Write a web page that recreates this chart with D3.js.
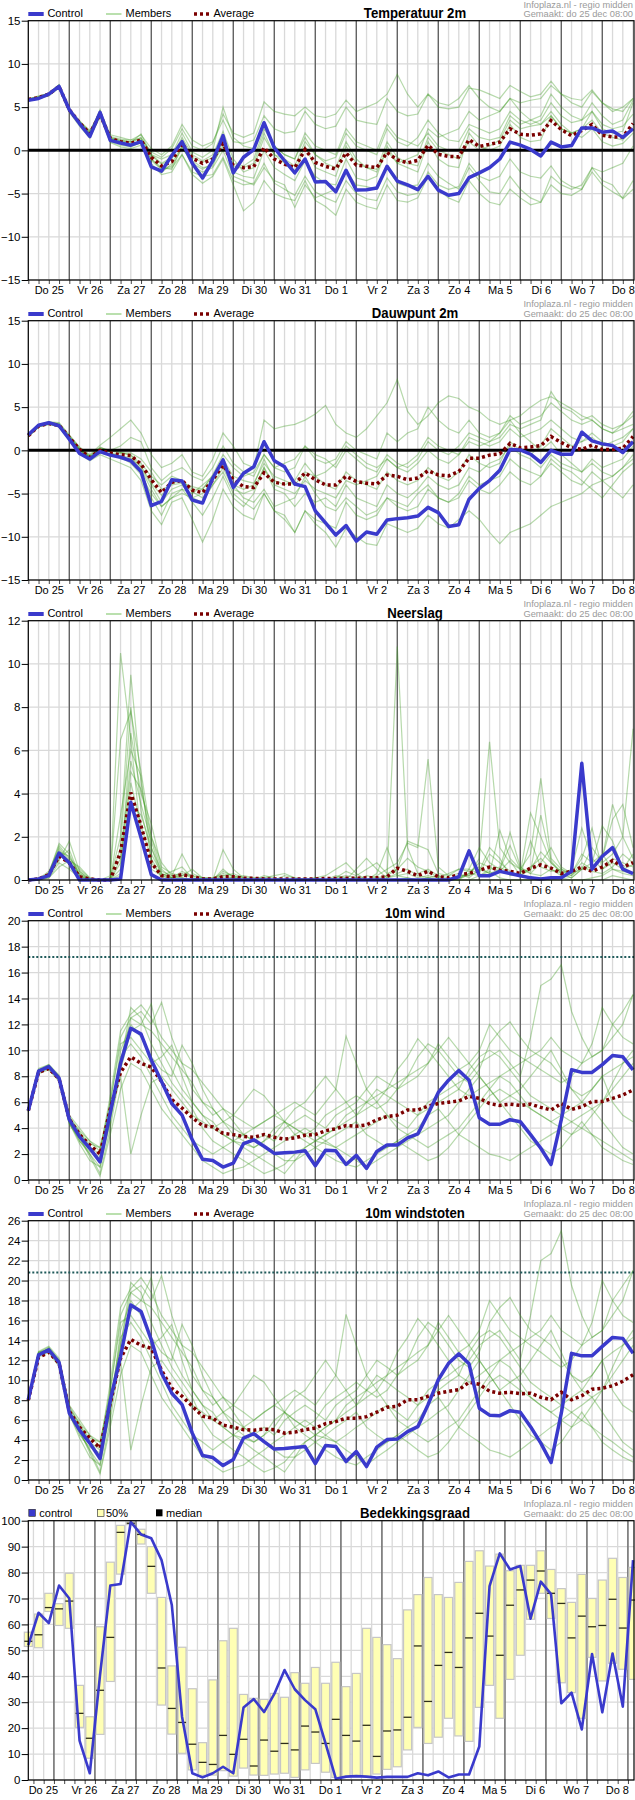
<!DOCTYPE html>
<html>
<head>
<meta charset="utf-8">
<script src="https://cdn.jsdelivr.net/npm/d3@7"></script>
<style>
  body { margin: 0; background: #fff; }
  svg { display: block; }
</style>
</head>
<body>
<script>
// ---- time axis (6-hourly steps) ----
const runStart = new Date(2025, 11, 25, 0);   // ensemble panels start do 25 dec 00:00
const cloudStart = new Date(2025, 11, 25, 9); // cloud cover panel starts 9h later
const dayNames = ["Zo", "Ma", "Di", "Wo", "Do", "Vr", "Za"];

// ---- Temperatuur 2m ----
const tempControl = [5.8,6.0,6.5,7.4, 4.7,3.1,1.6,4.4, 1.15,0.85,0.6,1.0, -1.9,-2.4,-0.6,1.0, -1.5,-3.2,-1.2,1.7, -2.6,-0.8,0.1,3.2, 0.3,-1.2,-2.6,-1.0, -3.65,-3.6,-4.8,-2.3, -4.6,-4.55,-4.35,-1.85, -3.55,-4.0,-4.55,-3.0, -4.6,-5.2,-5.0,-3.15, -2.6,-2.0,-1.0,0.95, 0.6,0.1,-0.65,0.95, 0.4,0.55,2.6,2.6, 2.1,2.25,1.5,2.5];
const tempAverage = [5.9,6.1,6.5,7.4, 4.7,3.2,1.9,4.2, 1.4,1.0,0.8,1.2, -0.8,-1.8,-1.3,0.8, -0.9,-1.5,-1.0,0.8, -1.8,-2.0,-1.9,0.3, -1.0,-1.6,-2.0,0.1, -1.4,-1.85,-2.15,-0.3, -1.7,-1.85,-2.0,-0.25, -1.1,-1.45,-1.15,0.6, -0.45,-0.7,-0.75,1.25, 0.45,0.7,0.95,2.5, 1.85,1.75,1.9,3.45, 2.4,1.7,2.3,3.0, 1.75,1.55,1.55,3.1];
const tempMembers = [
  [5.9,6.2,6.6,7.5, 4.9,3.3,2.2,4.6, 1.8,1.5,1.2,1.8, 0.2,-0.5,0.5,3.0, 1.2,0.5,1.0,3.5, 1.0,0.8,1.2,4.0, 2.5,2.0,2.2,4.5, 3.0,2.5,2.8,5.0, 3.5,3.2,3.0,6.0, 4.5,4.0,4.2,6.5, 5.0,4.8,5.0,7.2, 7.0,6.5,6.0,7.5, 6.8,6.2,6.5,8.0, 6.5,5.5,5.0,6.8, 5.5,4.5,5.0,6.0],
  [5.8,6.0,6.3,7.2, 4.4,2.8,1.4,3.9, 0.9,0.4,0.2,0.6, -1.5,-2.8,-2.5,-0.5, -2.5,-3.0,-2.8,-0.8, -3.5,-4.0,-3.8,-1.5, -3.8,-4.5,-5.2,-3.0, -4.8,-5.5,-6.0,-3.5, -5.0,-5.6,-5.8,-3.2, -4.8,-5.2,-5.0,-2.5, -4.0,-4.5,-4.2,-1.5, -3.0,-3.5,-3.0,-1.0, -2.5,-3.0,-3.2,-1.8, -3.5,-4.2,-4.5,-2.5, -4.0,-4.8,-5.5,-3.5],
  [6.0,6.1,6.5,7.5, 4.6,3.0,2.0,4.5, 1.3,1.2,1.0,1.5, -0.5,-1.5,-0.8,1.5, -0.5,-1.2,-0.5,2.2, -1.0,-2.5,-2.0,1.5, -0.5,-1.0,-1.8,1.0, -0.5,-1.2,-0.8,2.0, 0.5,0.0,-0.5,2.5, 1.0,0.5,1.5,3.5, 2.0,1.2,1.0,3.0, 2.5,2.0,2.5,4.5, 3.5,3.0,3.5,5.5, 4.0,3.2,3.5,4.5, 3.0,2.5,2.8,4.2],
  [5.8,6.0,6.4,7.3, 4.5,3.4,2.1,4.0, 1.5,0.9,0.5,1.0, -1.2,-2.2,-1.8,0.2, -1.2,-2.0,-1.8,1.0, -2.5,-3.0,-3.2,0.0, -2.0,-2.8,-3.5,-1.2, -3.0,-3.8,-4.0,-1.0, -3.2,-3.5,-3.0,0.5, -1.5,-2.0,-2.5,1.0, -1.0,-1.8,-2.0,2.0, 0.5,0.0,0.5,3.0, 1.5,1.0,1.2,4.0, 2.5,2.0,2.5,4.5, 2.5,2.0,2.2,5.5],
  [5.9,6.3,6.6,7.6, 4.8,3.4,2.3,4.3, 1.6,1.3,1.2,1.4, -0.2,-0.8,0.2,2.5, 0.5,0.0,0.8,4.2, 2.0,1.5,2.0,5.6, 4.5,4.2,4.0,5.0, 4.0,3.8,4.2,5.8, 4.5,5.0,5.5,6.5, 8.8,6.5,5.0,6.5, 5.5,5.2,6.0,7.5, 6.0,5.0,4.5,6.0, 4.5,3.5,3.0,4.0, 2.5,2.0,1.5,2.5, 1.0,0.5,0.8,2.0],
  [5.7,6.0,6.4,7.4, 4.5,3.0,1.7,4.1, 1.0,0.6,0.4,0.9, -1.8,-2.6,-1.5,0.5, -1.8,-2.5,-2.0,0.0, -3.0,-3.5,-4.0,-2.0, -3.5,-4.0,-6.6,-4.0, -5.5,-5.0,-4.5,-2.5, -4.0,-4.2,-4.5,-2.0, -3.8,-4.2,-4.0,-1.5, -3.0,-3.8,-4.5,-2.0, -3.5,-4.8,-5.0,-3.0, -4.5,-5.5,-6.0,-4.0, -5.0,-5.2,-4.5,-2.0, -3.5,-4.0,-5.6,-4.5],
  [6.0,6.2,6.6,7.6, 4.8,3.1,1.8,4.7, 1.4,1.1,0.9,1.9, -0.5,-1.0,-0.5,2.0, -0.2,-0.8,0.0,5.0, 1.5,0.5,0.2,3.0, 0.5,-0.5,-1.0,1.5, -0.5,-1.5,-2.0,1.0, -1.0,-2.0,-2.5,0.0, -1.5,-1.0,-0.5,2.5, 1.5,2.0,2.5,4.5, 3.5,4.0,4.5,6.0, 5.5,5.8,6.0,7.5, 6.5,6.0,5.8,7.0, 5.5,4.8,4.5,6.0],
  [5.8,6.1,6.5,7.3, 4.6,3.2,1.5,4.0, 1.2,0.8,0.6,0.8, -1.0,-2.0,-2.2,0.5, -1.5,-2.2,-1.5,0.5, -1.8,-2.0,-1.5,2.0, -0.5,-1.5,-2.5,0.5, -2.0,-2.5,-3.0,0.5, -1.5,-2.0,-2.2,1.0, -0.8,-1.5,-1.8,1.5, 0.0,-0.5,-1.0,1.0, 0.0,0.5,1.2,3.5, 2.5,2.8,3.0,4.5, 3.0,2.0,2.5,3.5, 2.0,1.5,1.2,2.5],
  [5.9,6.0,6.5,7.4, 4.7,3.1,1.9,4.2, 1.3,0.9,0.7,1.1, -1.0,-2.2,-2.0,-0.5, -2.8,-3.8,-3.0,-1.0, -4.0,-7.0,-6.0,-3.5, -5.0,-5.5,-5.8,-3.5, -5.8,-6.5,-7.5,-4.5, -6.0,-6.5,-6.8,-4.0, -5.8,-6.0,-5.5,-3.0, -4.5,-5.5,-6.0,-3.5, -5.0,-6.0,-6.3,-4.5, -5.5,-6.3,-6.0,-3.0, -4.0,-4.5,-4.0,-2.0, -2.5,-2.0,-1.5,0.5],
  [5.8,6.2,6.6,7.5, 4.7,3.3,2.0,4.4, 1.5,1.1,1.0,1.3, -0.6,-1.6,-1.0,1.2, -0.8,-1.4,-0.8,1.5, -1.5,-1.8,-1.0,2.5, 0.5,-0.5,-1.0,2.0, 0.5,0.0,-0.5,2.5, 1.0,0.5,0.0,3.0, 1.5,1.0,0.5,2.0, 0.5,0.0,0.0,2.5, 1.5,1.2,1.5,4.0, 3.0,3.5,4.0,6.5, 5.0,4.0,3.5,5.5, 4.0,3.0,3.5,5.8]
];

// ---- Dauwpunt 2m ----
const dewControl = [1.8,2.9,3.2,2.85, 1.3,-0.35,-1.0,-0.15, -0.55,-0.8,-1.2,-2.45, -6.4,-5.9,-3.4,-3.55, -5.75,-6.1,-3.2,-1.1, -4.3,-2.65,-1.9,1.0, -1.2,-1.9,-3.9,-4.2, -7.0,-8.4,-9.8,-8.7, -10.5,-9.45,-9.7,-8.05, -7.9,-7.8,-7.6,-6.6, -7.2,-8.8,-8.6,-5.65, -4.4,-3.5,-2.3,0.1, 0.05,-0.45,-1.4,0.0, -0.45,-0.45,2.1,1.1, 0.75,0.55,-0.25,1.0];
const dewAverage = [1.7,2.8,3.1,2.9, 1.5,0.1,-0.8,0.0, -0.3,-0.5,-0.6,-1.6, -3.4,-4.9,-3.7,-3.5, -4.6,-4.9,-3.4,-1.7, -3.4,-4.2,-4.3,-2.6, -3.7,-3.9,-3.9,-2.6, -3.4,-4.0,-4.0,-3.0, -3.6,-3.8,-3.9,-2.85, -3.0,-3.4,-3.2,-2.35, -2.85,-2.95,-2.45,-0.9, -0.9,-0.55,-0.4,0.8, 0.3,0.4,0.55,1.6, 0.9,0.3,0.1,0.6, 0.1,0.1,0.25,1.6];
const dewMembers = [
  [1.9,3.0,3.3,3.2, 1.8,0.4,-0.5,0.6, 1.5,2.5,3.5,2.0, -0.5,-2.0,-1.5,-0.5, -2.5,-3.0,-1.0,2.0, 0.5,-1.5,-2.0,3.5, 2.5,2.8,3.0,3.5, 4.2,5.2,3.0,2.0, 1.5,2.5,4.0,5.5, 8.2,4.5,3.0,4.0, 5.5,6.3,6.0,5.0, 4.5,3.5,3.0,3.5, 4.0,5.0,5.8,6.2, 5.5,4.8,4.0,3.5, 2.5,2.0,3.0,4.5],
  [1.6,2.7,3.0,2.7, 1.2,-0.4,-1.2,-0.5, -1.0,-1.5,-2.0,-3.5, -7.0,-8.6,-6.0,-5.5, -8.0,-10.6,-8.0,-4.5, -6.5,-7.5,-8.0,-5.0, -7.0,-7.5,-9.5,-7.0, -8.5,-9.5,-11.2,-9.0, -10.0,-10.8,-11.0,-8.5, -9.0,-9.5,-9.0,-7.5, -8.5,-9.0,-8.0,-7.0, -8.0,-9.5,-10.8,-9.5, -9.0,-8.5,-7.5,-6.5, -6.0,-5.5,-5.0,-4.0, -3.5,-3.0,-2.0,-1.0],
  [1.7,2.8,3.2,3.0, 1.6,0.2,-0.7,0.3, 0.0,0.5,1.5,1.0, -2.0,-3.5,-2.5,-2.0, -3.0,-3.5,-2.0,0.5, -1.5,-2.5,-3.0,-0.5, -2.0,-2.5,-2.0,0.5, -1.0,-1.5,-1.0,1.0, 0.0,-0.5,-1.0,2.0, 1.0,2.0,2.5,5.0, 3.5,2.5,2.0,3.5, 2.0,1.5,2.0,4.0, 3.0,3.5,4.0,5.5, 4.5,3.5,3.0,3.5, 2.5,2.0,2.5,3.0],
  [1.8,2.9,3.1,2.8, 1.4,0.0,-0.9,-0.2, -0.5,-0.3,-0.5,-2.0, -4.0,-6.0,-4.5,-4.0, -5.5,-5.0,-3.5,-1.5, -4.0,-5.5,-6.0,-4.5, -6.5,-6.0,-5.5,-3.0, -5.0,-6.5,-7.0,-5.5, -6.5,-7.5,-7.0,-5.5, -6.0,-6.5,-5.0,-4.0, -5.5,-6.0,-5.5,-3.5, -4.5,-5.0,-4.0,-2.5, -3.5,-4.0,-3.0,-1.0, -2.0,-2.5,-3.5,-4.5, -5.5,-4.0,-2.5,-1.5],
  [1.7,2.8,3.1,2.9, 1.5,0.0,-0.8,0.2, 0.0,-0.2,-0.6,-1.5, -3.0,-4.0,-3.0,-3.5, -4.5,-4.5,-3.0,-1.0, -3.0,-3.5,-3.8,-1.5, -3.0,-3.5,-4.0,-2.5, -3.0,-2.5,-1.5,0.5, -0.5,-1.5,-2.0,-1.0, -2.0,-2.5,-1.5,0.0, -1.0,-1.5,-0.5,1.5, 1.0,0.5,1.0,2.5, 1.5,2.0,2.5,3.5, 2.5,1.5,1.0,1.5, 0.5,1.0,1.5,2.5],
  [1.6,2.7,3.2,3.1, 1.7,0.3,-0.6,0.4, -0.2,-1.0,-1.2,-2.5, -5.5,-7.5,-5.0,-4.5, -6.0,-7.5,-5.5,-3.0, -5.5,-6.5,-5.0,-2.0, -4.5,-5.0,-6.5,-5.0, -6.0,-5.5,-6.5,-4.0, -5.5,-6.0,-6.5,-4.0, -5.0,-5.5,-4.5,-3.0, -4.0,-4.5,-4.0,-2.0, -2.5,-1.5,-1.0,0.5, -0.5,-1.0,-2.0,-0.5, -1.5,-2.0,-2.5,-1.0, -2.0,-1.5,-1.0,0.5],
  [1.8,2.9,3.3,3.0, 1.5,0.1,-0.8,0.0, -0.5,-0.8,-1.0,-1.8, -3.8,-5.2,-3.8,-3.5, -4.8,-5.5,-4.0,-2.5, -5.0,-6.0,-6.8,-5.0, -7.0,-8.0,-9.5,-7.0, -8.0,-8.5,-9.0,-6.0, -7.5,-8.0,-7.5,-5.5, -6.5,-7.0,-6.5,-4.5, -5.5,-6.0,-5.0,-3.0, -4.0,-3.5,-3.0,-1.0, -2.0,-2.5,-3.0,-1.5, -2.5,-3.5,-4.0,-2.5, -3.5,-4.5,-5.5,-4.0],
  [1.7,2.8,3.1,2.9, 1.6,0.2,-0.7,0.1, -0.1,-0.3,-0.3,-1.0, -2.5,-4.5,-4.0,-3.8, -4.2,-4.5,-2.8,-0.5, -2.0,-3.0,-2.5,-0.5, -2.0,-1.5,-1.0,0.5, -0.5,-1.0,-2.0,0.0, -1.0,-2.0,-2.5,-0.5, -1.5,-2.0,-1.0,1.0, 0.0,-0.5,0.5,2.0, 1.5,1.0,1.5,3.0, 2.5,3.0,3.5,6.8, 5.0,4.5,3.5,4.0, 3.0,2.5,3.0,4.0],
  [1.6,2.7,3.0,2.8, 1.3,0.0,-0.9,-0.3, -0.6,-0.8,-1.5,-2.8, -5.0,-6.5,-5.5,-5.0, -5.5,-6.0,-4.0,-2.0, -4.5,-5.0,-4.5,-2.0, -4.0,-4.5,-5.0,-3.5, -4.5,-5.0,-5.5,-3.5, -4.0,-3.5,-3.0,-1.0, -2.0,-1.5,-0.5,1.5, 0.5,0.0,-0.5,1.0, 0.5,1.0,2.0,3.5, 2.0,1.0,0.0,1.0, -0.5,-1.5,-2.5,-1.5, -2.5,-3.0,-2.0,-0.5],
  [1.8,2.9,3.2,3.0, 1.4,0.1,-0.8,-0.1, -0.4,-0.6,-0.9,-2.2, -4.5,-6.5,-5.5,-4.5, -5.0,-4.0,-3.0,-1.5, -4.0,-4.5,-4.0,-1.0, -3.5,-4.0,-3.5,-1.5, -3.0,-4.0,-4.5,-2.5, -3.5,-4.0,-4.5,-2.5, -3.5,-4.0,-3.5,-2.0, -3.0,-3.5,-2.5,-0.5, -1.5,-2.0,-1.5,1.0, 0.0,-0.5,0.5,2.5, 1.5,0.5,1.0,2.0, 1.0,0.5,1.0,2.5]
];

// ---- Neerslag ----
const rainControl = [0,0.05,0.2,1.25, 0.8,0,0,0, 0,0.05,3.6,1.95, 0.25,0,0,0, 0,0,0,0, 0,0,0,0, 0,0,0,0, 0,0,0,0, 0,0,0,0, 0,0,0,0, 0,0,0.15,1.35, 0.2,0.2,0.4,0.3, 0.2,0.1,0.05,0.1, 0.1,0.4,5.4,0.5, 1.1,1.5,0.5,0.3];
const rainAverage = [0,0.05,0.25,1.1, 0.8,0.15,0.05,0, 0,1.3,4.05,2.5, 0.8,0.2,0.15,0.25, 0.15,0.05,0.05,0.15, 0.15,0.08,0.08,0.05, 0.05,0.05,0.05,0.05, 0.05,0.07,0.07,0.08, 0.08,0.1,0.1,0.15, 0.55,0.4,0.2,0.4, 0.15,0.1,0.25,0.3, 0.45,0.6,0.45,0.4, 0.3,0.55,0.7,0.55, 0.3,0.4,0.6,0.4, 0.6,0.9,0.6,0.8];
const rainMembers = [
  [0,0.05,0.3,1.7, 1.2,0.2,0,0, 0,10.5,6.5,2.0, 0.5,0.2,0.1,0.3, 0.1,0,0,0.4, 0.2,0,0,0, 0,0,0,0.1, 0,0,0.1,0.2, 0.1,0,0.3,1.5, 0.2,0.1,0,0.1, 0.2,0.1,0,0.5, 0.3,1.2,0.8,0.4, 0.2,0.6,1.0,0.5, 0.2,0.1,0.5,1.5, 0.8,1.2,2.0,1.0],
  [0,0.1,0.2,0.9, 1.8,0.4,0.05,0, 0.1,2.0,9.5,4.5, 1.5,0.4,0.2,1.2, 0.3,0.1,0.1,0.2, 0.1,0.2,0.1,0, 0,0,0,0, 0.1,0.2,0.5,0.8, 0.3,0,0.1,0.2, 10.8,1.5,0.3,0.5, 0.2,0,0.1,0.2, 1.0,6.4,1.5,0.8, 0.5,1.2,4.7,1.0, 0.5,0.2,0.8,0.5, 1.0,3.5,2.0,7.0],
  [0,0.05,0.4,1.4, 0.8,0.3,0,0, 0.2,6.5,7.8,5.0, 2.0,0.5,0.1,0.2, 0.5,0.1,0,1.4, 0.5,0.1,0,0.1, 0,0.2,0.1,0, 0,0,0,0, 0,0,0.2,0.5, 0.8,1.7,1.5,5.6, 0.6,0.2,0.3,0.1, 0.5,0.3,2.3,1.0, 0.5,0.3,0.8,1.5, 0.6,0.3,1.0,2.4, 0.5,0.8,0.5,1.2],
  [0,0,0.2,1.0, 1.4,0.2,0,0, 0,1.0,5.5,3.5, 1.8,0.3,0.1,0.1, 0,0,0,0, 0.1,0,0,0.2, 0.1,0,0,0, 0,0,0,0, 0.5,1.0,0.5,0.1, 0.2,0.3,0.1,0.2, 0.1,0.3,0.5,0.5, 1.5,0.8,0.5,2.2, 0.6,0.3,0.2,0.5, 0.3,0.1,0.5,0.6, 1.0,2.8,3.5,1.5],
  [0,0.05,0.3,1.6, 1.0,0.5,0.1,0, 0,3.0,6.0,4.8, 0.8,0.2,0.4,0.6, 0.1,0,0,0.1, 0.1,0,0,0, 0,0,0,0, 0,0,0.2,0.1, 0,0.2,0.1,0, 0,0.1,0,0.1, 0,0,0.2,0.2, 0.4,1.5,1.0,0.2, 0.3,3.1,2.0,0.8, 0.3,0.5,2.4,1.0, 0.5,1.0,0.8,0.6],
  [0,0,0.1,0.6, 0.9,0.6,0.1,0, 0,0.5,4.5,2.5, 1.0,0.1,0,0, 0,0,0,0, 0,0,0,0, 0,0,0,0, 0,0,0,0, 0,0,0,0, 0,0,0,0, 0,0,0,0, 0,0,0,0, 0,0,0.1,0, 0,0,0,0, 0,0.2,0.1,0],
  [0,0.1,0.2,1.2, 0.7,0.3,0,0, 0,0.3,6.8,4.0, 2.6,0.6,0.3,0.2, 0.2,0.1,0.1,0.3, 0.2,0.1,0.1,0.1, 0.2,0.3,0.1,0, 0.1,0,0.1,0.4, 0.2,0.5,0.8,0.3, 0.5,1.0,0.6,0.4, 0.1,0,0.1,0.3, 0.8,0.6,0.4,0.9, 0.2,1.8,0.6,0.4, 0.5,0.3,1.2,0.8, 2.5,1.8,0.5,0.7],
  [0,0,0.1,0.8, 0.5,0.1,0,0, 0,0.2,3.5,3.0, 1.5,0.2,0,0, 0,0,0,0, 0,0,0,0, 0,0,0,0, 0,0,0,0, 0,0,0,0.1, 0.3,0.5,0.2,0.1, 0,0,0,0, 0.2,0.4,0.1,0, 0,0,0,0, 0.1,0,0,0.1, 0.2,0.5,0.3,0.2],
  [0,0.05,0.2,1.3, 1.1,0.2,0,0, 0,1.5,8.0,3.2, 1.2,0.3,0.1,0.4, 0.2,0,0,0.5, 0.1,0,0,0, 0,0,0,0, 0,0,0,0, 0.1,0,0,0.2, 0.5,1.8,1.6,1.4, 0.3,0.2,0.5,0.4, 0.6,0.3,0.5,1.6, 0.5,0.4,3.0,0.9, 0.3,0.2,0.6,0.4, 0.3,0.6,1.2,0.8],
  [0,0,0.2,1.5, 0.9,0.4,0,0, 0,0.8,5.0,4.2, 2.0,0.8,0.2,0.1, 0,0.1,0,0.2, 0.3,0.1,0,0, 0,0,0,0, 0,0,0,0.1, 0,0,0,0, 0,0,0,0, 0,0,0,0.3, 0.2,0.5,0.6,0.3, 0.2,0.5,1.3,0.8, 0.4,0.3,0.5,0.8, 1.2,0.5,0.4,0.3]
];

// ---- 10m wind ----
const windControl = [5.35,8.4,8.75,7.85, 4.65,3.35,2.45,1.4, 5.2,9.0,11.7,11.25, 9.25,7.6,5.9,5.0, 3.1,1.6,1.5,1.0, 1.3,2.8,3.1,2.6, 2.05,2.1,2.15,2.25, 1.1,2.3,2.25,1.2, 1.9,0.9,2.2,2.7, 2.7,3.25,3.55,5.1, 6.75,7.7,8.45,7.7, 4.8,4.3,4.3,4.65, 4.5,3.5,2.45,1.2, 4.65,8.5,8.3,8.3, 8.9,9.6,9.5,8.5];
const windAverage = [5.35,8.3,8.6,7.8, 4.7,3.5,2.7,2.0, 5.5,8.3,9.5,9.0, 8.7,7.6,6.2,5.55, 4.8,4.2,4.1,3.6, 3.5,3.35,3.3,3.5, 3.3,3.15,3.25,3.45, 3.5,3.8,3.95,4.2, 4.15,4.25,4.65,4.9, 5.0,5.4,5.4,5.7, 5.9,6.0,6.1,6.45, 6.3,5.9,5.75,5.85, 5.75,5.85,5.6,5.4, 5.9,5.45,5.65,6.05, 6.05,6.3,6.55,6.95];
const windMembers = [
  [5.3,8.5,8.9,8.0, 4.5,3.0,2.0,0.5, 4.0,8.5,11.5,12.0, 13.6,10.0,8.5,7.0, 6.0,5.0,4.5,3.5, 3.0,2.5,2.0,1.5, 1.0,0.5,1.5,2.5, 3.0,3.5,4.0,5.0, 5.5,6.0,6.5,7.0, 7.5,8.0,9.5,10.5, 10.0,9.0,8.0,7.5, 8.5,10.5,11.5,12.2, 11.0,10.0,9.5,9.0, 8.0,7.0,6.0,5.5, 6.0,7.0,8.0,9.0],
  [5.4,8.3,8.6,7.8, 4.8,3.8,3.0,2.5, 5.5,9.0,13.3,12.5, 10.5,9.0,7.5,6.5, 5.5,4.0,3.0,2.5, 2.0,1.5,1.0,0.5, 0.8,1.2,2.0,2.5, 3.0,2.8,2.5,3.0, 3.5,4.0,4.5,5.0, 4.5,4.0,5.0,6.0, 6.5,7.0,7.5,8.0, 9.0,9.5,10.0,9.0, 8.0,11.0,15.0,15.5, 16.6,13.0,11.0,9.5, 10.0,12.0,13.0,14.3],
  [5.3,8.4,8.8,7.9, 4.3,3.2,2.0,1.0, 4.5,10.0,12.0,11.0, 9.5,8.5,8.0,10.4, 9.0,7.0,5.5,4.5, 4.0,3.5,3.0,2.5, 2.0,1.5,1.5,2.0, 2.5,3.0,3.5,4.0, 4.5,3.5,3.0,2.5, 3.0,3.5,4.0,5.0, 5.5,4.5,3.5,3.0, 2.5,2.0,1.8,1.5, 2.0,2.5,3.0,3.5, 4.0,4.5,5.0,5.5, 4.5,3.5,2.5,2.0],
  [5.4,8.5,8.7,7.7, 4.6,3.5,2.5,2.0, 6.0,11.0,12.5,13.0, 12.0,13.7,11.0,9.0, 7.0,6.0,5.0,5.5, 4.5,3.5,3.0,3.5, 3.0,4.0,4.5,5.0, 4.5,4.0,5.0,5.5, 6.0,7.0,8.0,7.5, 7.0,8.0,8.5,9.0, 10.0,11.0,10.0,9.0, 8.0,7.0,6.0,6.5, 7.0,8.0,9.0,10.0, 8.5,7.0,6.5,7.0, 8.0,6.0,5.0,4.5],
  [5.3,8.2,8.5,7.6, 4.4,2.8,1.5,1.0, 5.0,9.5,10.5,9.5, 8.0,6.5,5.0,4.0, 3.0,2.5,2.0,2.5, 3.0,3.5,4.0,4.5, 5.0,5.5,6.0,5.5, 5.0,6.0,7.0,11.1, 9.0,7.0,6.0,5.0, 4.0,3.5,3.0,2.5, 3.0,3.5,4.0,5.0, 6.0,7.0,8.0,7.5, 6.5,5.5,5.0,4.5, 4.0,3.5,4.0,5.0, 6.0,7.5,9.0,10.0],
  [5.4,8.6,8.9,8.1, 5.0,4.0,3.0,2.2, 6.5,11.5,12.8,13.5, 12.5,11.0,10.0,9.0, 8.5,7.5,6.5,5.5, 5.0,4.5,4.0,4.5, 5.0,4.5,4.0,3.5, 4.0,5.0,5.5,6.0, 6.5,6.0,5.5,6.0, 7.0,7.5,8.0,9.0, 10.5,9.5,8.5,9.0, 10.0,12.0,11.0,10.0, 9.5,9.0,8.5,8.0, 7.5,8.0,9.0,10.5, 13.3,12.0,11.0,10.5],
  [5.3,8.3,8.7,7.8, 4.5,3.3,1.8,0.3, 3.5,7.0,9.0,8.5, 7.0,5.5,4.5,3.5, 2.5,1.5,1.0,0.5, 0.8,1.0,1.5,2.0, 2.5,3.0,3.5,4.0, 3.5,3.0,2.5,2.0, 1.5,1.0,1.5,2.0, 2.5,3.0,3.5,4.0, 4.5,5.0,6.0,7.0, 8.0,7.0,6.0,5.0, 4.0,3.0,2.5,2.0, 2.5,3.5,4.5,3.5, 2.5,2.0,1.5,1.2],
  [5.4,8.4,8.8,7.9, 4.7,3.6,2.8,2.5, 6.0,10.5,11.0,10.0, 9.0,9.5,10.4,8.0, 6.0,5.0,4.0,3.5, 3.0,2.8,2.5,3.0, 3.5,4.5,5.5,6.0, 7.0,8.0,7.0,6.0, 5.0,5.5,6.0,7.0, 8.5,9.5,10.9,10.0, 9.0,8.0,7.0,6.5, 7.0,7.5,8.0,8.5, 9.0,9.5,10.0,11.0, 10.0,9.5,9.0,9.5, 10.0,11.0,12.0,14.3],
  [5.3,8.4,8.6,7.7, 4.4,3.0,2.2,1.8, 5.0,8.0,2.0,5.0, 7.5,8.0,7.0,6.0, 5.0,4.5,4.0,4.5, 5.0,6.0,7.0,6.5, 5.5,4.5,3.5,3.0, 2.5,2.0,1.5,1.2, 1.0,1.5,2.0,2.5, 3.0,2.5,2.0,1.5, 1.8,2.5,3.5,4.5, 5.5,6.5,7.0,6.5, 6.0,5.5,5.0,4.5, 5.0,5.5,6.0,7.0, 8.0,8.5,9.0,9.5],
  [5.4,8.5,8.7,8.0, 4.9,3.7,2.6,1.5, 4.5,9.0,12.5,12.0, 11.5,10.5,9.5,8.5, 7.5,6.0,5.5,4.5, 3.5,3.0,2.5,3.0, 4.0,4.5,4.0,3.5, 3.0,3.5,4.0,4.5, 5.0,6.0,7.0,6.5, 6.0,5.5,5.0,5.5, 6.0,6.5,7.0,8.5, 9.5,10.0,9.5,8.5, 7.5,6.5,6.0,5.5, 5.0,4.5,4.0,3.5, 3.0,2.5,2.0,1.5]
];

// ---- 10m windstoten ----
const gustControl = [8.05,12.55,13.05,11.8, 6.7,5.0,3.7,2.15, 8.0,12.4,17.55,16.9, 14.05,10.7,8.7,7.55, 4.7,2.45,2.25,1.45, 2.05,4.2,4.65,3.85, 3.1,3.15,3.25,3.35, 1.65,3.45,3.35,1.85, 2.85,1.35,3.3,4.05, 4.1,4.85,5.35,7.55, 10.05,11.7,12.65,11.65, 7.2,6.5,6.45,6.95, 6.8,5.35,3.7,1.75, 6.7,12.7,12.45,12.45, 13.4,14.3,14.2,12.7];
const gustAverage = [8.0,12.3,12.8,11.7, 6.9,5.3,4.2,3.2, 7.7,12.2,14.1,13.5, 13.2,11.0,9.2,8.4, 7.4,6.4,6.2,5.5, 5.3,5.05,5.0,5.1, 5.05,4.7,4.8,5.05, 5.2,5.65,5.85,6.2, 6.2,6.35,6.8,7.3, 7.4,8.05,8.05,8.4, 8.7,8.9,9.05,9.8, 9.6,8.9,8.7,8.8, 8.65,8.7,8.3,8.05, 8.8,8.05,8.45,9.1, 9.2,9.45,9.9,10.55];
const gustMembers = [
  [8.0,12.8,13.3,12.0, 6.8,4.8,3.0,0.8, 6.0,12.5,17.0,18.0, 20.3,15.0,12.5,10.5, 9.0,7.5,6.8,5.3, 4.5,3.8,3.0,2.3, 1.5,0.8,2.3,3.8, 4.5,5.3,6.0,7.5, 8.3,9.0,9.8,10.5, 11.3,12.0,14.3,15.8, 15.0,13.5,12.0,11.3, 12.8,15.8,17.3,18.3, 16.5,15.0,14.3,13.5, 12.0,10.5,9.0,8.3, 9.0,10.5,12.0,13.5],
  [8.1,12.5,12.9,11.7, 7.2,5.7,4.5,3.8, 8.3,13.5,19.8,18.8, 15.8,13.5,11.3,9.8, 8.3,6.0,4.5,3.8, 3.0,2.3,1.5,0.8, 1.2,1.8,3.0,3.8, 4.5,4.2,3.8,4.5, 5.3,6.0,6.8,7.5, 6.8,6.0,7.5,9.0, 9.8,10.5,11.3,12.0, 13.5,14.3,15.0,13.5, 12.0,16.5,22.0,22.7, 25.0,19.5,16.5,14.3, 15.0,18.0,19.5,21.0],
  [8.0,12.6,13.2,11.9, 6.5,4.8,3.0,1.5, 6.8,15.0,18.0,16.5, 14.3,12.8,12.0,15.6, 13.5,10.5,8.3,6.8, 6.0,5.3,4.5,3.8, 3.0,2.3,2.3,3.0, 3.8,4.5,5.3,6.0, 6.8,5.3,4.5,3.8, 4.5,5.3,6.0,7.5, 8.3,6.8,5.3,4.5, 3.8,3.0,2.7,2.3, 3.0,3.8,4.5,5.3, 6.0,6.8,7.5,8.3, 6.8,5.3,3.8,3.0],
  [8.1,12.8,13.1,11.6, 6.9,5.3,3.8,3.0, 9.0,16.5,18.8,19.5, 18.0,20.5,16.5,13.5, 10.5,9.0,7.5,8.3, 6.8,5.3,4.5,5.3, 4.5,6.0,6.8,7.5, 6.8,6.0,7.5,8.3, 9.0,10.5,12.0,11.3, 10.5,12.0,12.8,13.5, 15.0,16.5,15.0,13.5, 12.0,10.5,9.0,9.8, 10.5,12.0,13.5,15.0, 12.8,10.5,9.8,10.5, 12.0,9.0,7.5,6.8],
  [8.0,12.3,12.8,11.4, 6.6,4.2,2.3,1.5, 7.5,14.3,15.8,14.3, 12.0,9.8,7.5,6.0, 4.5,3.8,3.0,3.8, 4.5,5.3,6.0,6.8, 7.5,8.3,9.0,8.3, 7.5,9.0,10.5,16.6, 13.5,10.5,9.0,7.5, 6.0,5.3,4.5,3.8, 4.5,5.3,6.0,7.5, 9.0,10.5,12.0,11.3, 9.8,8.3,7.5,6.8, 6.0,5.3,6.0,7.5, 9.0,11.3,13.5,15.0],
  [8.1,12.9,13.4,12.2, 7.5,6.0,4.5,3.3, 9.8,17.3,19.2,20.3, 18.8,16.5,15.0,13.5, 12.8,11.3,9.8,8.3, 7.5,6.8,6.0,6.8, 7.5,6.8,6.0,5.3, 6.0,7.5,8.3,9.0, 9.8,9.0,8.3,9.0, 10.5,11.3,12.0,13.5, 15.8,14.3,12.8,13.5, 15.0,18.0,16.5,15.0, 14.3,13.5,12.8,12.0, 11.3,12.0,13.5,15.8, 20.0,18.0,16.5,15.8],
  [8.0,12.5,13.1,11.7, 6.8,5.0,2.7,0.6, 5.3,10.5,13.5,12.8, 10.5,8.3,6.8,5.3, 3.8,2.3,1.5,0.8, 1.2,1.5,2.3,3.0, 3.8,4.5,5.3,6.0, 5.3,4.5,3.8,3.0, 2.3,1.5,2.3,3.0, 3.8,4.5,5.3,6.0, 6.8,7.5,9.0,10.5, 12.0,10.5,9.0,7.5, 6.0,4.5,3.8,3.0, 3.8,5.3,6.8,5.3, 3.8,3.0,2.3,1.8],
  [8.1,12.6,13.2,11.9, 7.1,5.4,4.2,3.8, 9.0,15.8,16.5,15.0, 13.5,14.3,15.6,12.0, 9.0,7.5,6.0,5.3, 4.5,4.2,3.8,4.5, 5.3,6.8,8.3,9.0, 10.5,12.0,10.5,9.0, 7.5,8.3,9.0,10.5, 12.8,14.3,16.2,15.0, 13.5,12.0,10.5,9.8, 10.5,11.3,12.0,12.8, 13.5,14.3,15.0,16.5, 15.0,14.3,13.5,14.3, 15.0,16.5,18.0,21.0],
  [8.0,12.6,12.9,11.6, 6.6,4.5,3.3,2.7, 7.5,12.0,3.0,7.5, 11.3,12.0,10.5,9.0, 7.5,6.8,6.0,6.8, 7.5,9.0,10.5,9.8, 8.3,6.8,5.3,4.5, 3.8,3.0,2.3,1.8, 1.5,2.3,3.0,3.8, 4.5,3.8,3.0,2.3, 2.7,3.8,5.3,6.8, 8.3,9.8,10.5,9.8, 9.0,8.3,7.5,6.8, 7.5,8.3,9.0,10.5, 12.0,12.8,13.5,14.3],
  [8.1,12.8,13.1,12.0, 7.4,5.6,3.9,2.3, 6.8,13.5,18.8,18.0, 17.3,15.8,14.3,12.8, 11.3,9.0,8.3,6.8, 5.3,4.5,3.8,4.5, 6.0,6.8,6.0,5.3, 4.5,5.3,6.0,6.8, 7.5,9.0,10.5,9.8, 9.0,8.3,7.5,8.3, 9.0,9.8,10.5,12.8, 14.3,15.0,14.3,12.8, 11.3,9.8,9.0,8.3, 7.5,6.8,6.0,5.3, 4.5,3.8,3.0,2.3]
];

// ---- Bedekkingsgraad ----
const cloudP75 = [57,64,72,68, 79.7,36.5,24.4,59.1, 84,98.2,99.5,96.7, 90,70.4,44,51.2, 35.2,14.4,38.6,53.7, 58.5,33,31.5,31.1, 33.4,31.9,41.4,37.3, 43.4,37.3,45.4,36, 41.1,58.5,55,52.2, 46.8,65.6,71.5,78.1, 71.5,70.4,76.2,84.3, 88.4,82.5,87.1,80.7, 82.8,82.8,88.4,81.2, 73.8,68.5,79.3,70, 77.1,85.5,78.1,82];
const cloudP25 = [51.5,51,65,59.6, 58.5,20.3,8.4,17.6, 38,79.4,98.5,91, 72,28.9,17.7,10.3, 3.9,1.8,1.9,3.6, 1.5,4.6,1.9,1.8, 2.3,2.6,1,3.9, 6.4,3,1,1.3, 1.3,1.3,2.3,4.1, 5.1,11.6,20.3,14.1, 16.5,23.8,17,14.9, 28,36.5,23.8,38.8, 48.1,62,72,62.3, 37.5,33.7,23.8,47.3, 38.2,45,42.7,38.8];
const cloudMedian = [53.5,56,66.5,66, 69,25.7,16.1,34.6, 55,95.5,99,94.7, 82.4,43.2,27.6,22.2, 13.8,6.8,6,17.2, 9.9,15.7,5.4,15.4, 11.1,14.1,11.6,20.8, 18.5,14.1,23.4,17.2, 15,21.1,9.1,18.9, 19.3,24.2,51.7,30.3, 44.2,49.2,43.4,54.8, 64.3,55.5,48.1,67.4, 73.3,77.1,80.6,72, 68.1,54.8,63.2,59.1, 59.6,69.7,58.6,69.4];
const cloudControl = [52,64.5,60.5,75, 70,15.2,2.6,40.5, 75,75.6,99.5,94.7, 93.2,84.8,67.5,24.4, 2.6,1,2.6,5.1, 2.6,28,31.2,26.2, 33.2,42.4,35,30.8, 27.3,14.1,0.5,1.3, 1.5,1.3,0.9,1.2, 1.2,1.2,2.6,1.8, 3.3,1,2.1,2.1, 12.9,74.8,87.4,81.2, 82.5,62.2,76.5,71.7, 29.6,33.7,19.5,48.6, 26.1,48.8,28.3,84.8];

// ---- layout / style ----
const FONT = "'Liberation Sans', Arial, Helvetica, sans-serif";
const LEFT = 28.3, RIGHT = 634, LAST_X = 633.05;
const PH = 259.3;            // plot height
const PANEL_STEP = 300;
const FIRST_TOP = 20.7;
const BLUE = "#3a3acc", DARKRED = "#7b0000", GREEN = "#3f9c22";

const N = tempControl.length;
const times = d3.range(N).map(i => d3.timeHour.offset(runStart, 6 * i));
const cloudTimes = d3.range(N).map(i => d3.timeHour.offset(cloudStart, 6 * i));
const x = d3.scaleTime().domain([times[0], times[N - 1]]).range([LEFT, LAST_X]);
const x6 = d3.scaleTime().domain([cloudTimes[0], cloudTimes[N - 1]]).range([LEFT, LAST_X]);

const svg = d3.select("body").append("svg")
  .attr("width", 635).attr("height", 1800)
  .attr("font-family", FONT);

function dayLabel(d) {
  return dayNames[d.getDay()] + " " + d.getDate();
}

// grid lines behind the data
function drawGrid(top, xs, y, yTicks, minorTimes, dayTimes) {
  const g = svg.append("g");
  const bottom = top + PH;
  g.selectAll("line.vminor").data(minorTimes).join("line")
    .attr("x1", d => xs(d)).attr("x2", d => xs(d))
    .attr("y1", top).attr("y2", bottom)
    .attr("stroke", "#d9d9d9").attr("stroke-width", 1.3);
  g.selectAll("line.hgrid").data(yTicks).join("line")
    .attr("x1", LEFT).attr("x2", RIGHT)
    .attr("y1", d => y(d)).attr("y2", d => y(d))
    .attr("stroke", "#d9d9d9").attr("stroke-width", 1.3);
  g.selectAll("line.day").data(dayTimes).join("line")
    .attr("x1", d => xs(d)).attr("x2", d => xs(d))
    .attr("y1", top).attr("y2", bottom)
    .attr("stroke", "#5e5e5e").attr("stroke-width", 1.3);
}

// axes and frame on top
function drawAxes(top, xs, y, yTicks, tickTimes, labelTimes) {
  const g = svg.append("g");
  const bottom = top + PH;

  const ya = g.append("g").attr("transform", `translate(${LEFT},0)`)
    .call(d3.axisLeft(y).tickValues(yTicks).tickSize(6.6).tickPadding(1.2).tickFormat(d3.format("d")));
  ya.select(".domain").remove();
  ya.attr("font-family", FONT).attr("font-size", 11.5);
  ya.selectAll("line").attr("stroke", "#000");
  ya.selectAll("text").attr("fill", "#000");

  const xt = g.append("g").attr("transform", `translate(0,${bottom})`)
    .call(d3.axisBottom(xs).tickValues(tickTimes).tickSize(4).tickFormat(""));
  xt.select(".domain").remove();
  xt.selectAll("line").attr("stroke", "#444");

  const xl = g.append("g").attr("transform", `translate(0,${bottom})`)
    .call(d3.axisBottom(xs).tickValues(labelTimes).tickSize(0).tickPadding(6.5).tickFormat(dayLabel));
  xl.select(".domain").remove();
  xl.attr("font-family", FONT).attr("font-size", 11);
  xl.selectAll("text").attr("fill", "#000");

  g.append("rect")
    .attr("x", LEFT).attr("y", top).attr("width", RIGHT - LEFT).attr("height", PH)
    .attr("fill", "none").attr("stroke", "#000").attr("stroke-width", 1.2);
}

function drawHeader(title, top) {
  const g = svg.append("g");
  g.append("text")
    .attr("transform", `translate(415,${top - 2.4}) scale(0.88,1)`)
    .attr("text-anchor", "middle")
    .attr("font-size", 15).attr("font-weight", "bold").attr("fill", "#000")
    .text(title);
  g.append("text")
    .attr("x", 633).attr("y", Math.max(top - 13.4, 8)).attr("text-anchor", "end")
    .attr("font-size", 9.3).attr("fill", "#9a9a9a")
    .text("Infoplaza.nl - regio midden");
  g.append("text")
    .attr("x", 633).attr("y", top - 3.4).attr("text-anchor", "end")
    .attr("font-size", 9.3).attr("fill", "#9a9a9a")
    .text("Gemaakt: do 25 dec 08:00");
}

function ensembleLegend(top) {
  const g = svg.append("g").attr("font-size", 11).attr("fill", "#000");
  const ly = top - 6.7, ty = top - 3.4;
  g.append("line").attr("x1", 28.3).attr("x2", 43.7).attr("y1", ly).attr("y2", ly)
    .attr("stroke", BLUE).attr("stroke-width", 4);
  g.append("text").attr("x", 47.4).attr("y", ty).text("Control");
  g.append("line").attr("x1", 106).attr("x2", 121.5).attr("y1", ly).attr("y2", ly)
    .attr("stroke", "#8ccc78").attr("stroke-width", 1.2);
  g.append("text").attr("x", 125.5).attr("y", ty).text("Members");
  g.append("line").attr("x1", 194).attr("x2", 209).attr("y1", ly).attr("y2", ly)
    .attr("stroke", DARKRED).attr("stroke-width", 3.5).attr("stroke-dasharray", "3,3");
  g.append("text").attr("x", 213.4).attr("y", ty).text("Average");
}

const ensemblePanels = [
  { title: "Temperatuur 2m", yMin: -15, yMax: 15, step: 5, zero: true,
    control: tempControl, average: tempAverage, members: tempMembers },
  { title: "Dauwpunt 2m", yMin: -15, yMax: 15, step: 5, zero: true,
    control: dewControl, average: dewAverage, members: dewMembers },
  { title: "Neerslag", yMin: 0, yMax: 12, step: 2,
    control: rainControl, average: rainAverage, members: rainMembers },
  { title: "10m wind", yMin: 0, yMax: 20, step: 2, ref: 17.2,
    control: windControl, average: windAverage, members: windMembers },
  { title: "10m windstoten", yMin: 0, yMax: 26, step: 2, ref: 20.8,
    control: gustControl, average: gustAverage, members: gustMembers }
];

function drawEnsemble(p, top) {
  const y = d3.scaleLinear().domain([p.yMin, p.yMax]).range([top + PH, top]);
  const yTicks = d3.range(p.yMin, p.yMax + p.step / 2, p.step);
  const days = d3.timeDay.range(d3.timeDay.offset(runStart, 1), times[N - 1]);
  const labels = d3.timeDay.range(runStart, times[N - 1]).map(d => d3.timeHour.offset(d, 12));

  drawGrid(top, x, y, yTicks, times, days);

  const line = d3.line().x((d, i) => x(times[i])).y(d => y(d));
  const g = svg.append("g");
  g.selectAll("path.member").data(p.members).join("path")
    .attr("d", line).attr("fill", "none")
    .attr("stroke", GREEN).attr("stroke-opacity", 0.38).attr("stroke-width", 1.2);
  if (p.zero) {
    g.append("line").attr("x1", LEFT).attr("x2", RIGHT)
      .attr("y1", y(0)).attr("y2", y(0))
      .attr("stroke", "#000").attr("stroke-width", 3);
  }
  if (p.ref != null) {
    g.append("line").attr("x1", LEFT).attr("x2", RIGHT)
      .attr("y1", y(p.ref)).attr("y2", y(p.ref))
      .attr("stroke", "#1f5a5a").attr("stroke-width", 2).attr("stroke-dasharray", "2,2");
  }
  g.append("path").datum(p.average).attr("d", line).attr("fill", "none")
    .attr("stroke", DARKRED).attr("stroke-width", 3.5).attr("stroke-dasharray", "3,3");
  g.append("path").datum(p.control).attr("d", line).attr("fill", "none")
    .attr("stroke", BLUE).attr("stroke-width", 3.5).attr("stroke-linejoin", "round");

  drawAxes(top, x, y, yTicks, times, labels);
  drawHeader(p.title, top);
  ensembleLegend(top);
}

ensemblePanels.forEach((p, k) => drawEnsemble(p, FIRST_TOP + PANEL_STEP * k));

// ---- cloud cover panel ----
function drawCloud(top) {
  const y = d3.scaleLinear().domain([0, 100]).range([top + PH, top]);
  const yTicks = d3.range(0, 101, 10);
  const endT = cloudTimes[N - 1];
  const minor = d3.timeHour.every(6).range(d3.timeHour.offset(cloudStart, 3), endT);
  const days = d3.timeDay.range(d3.timeDay.offset(d3.timeDay.floor(cloudStart), 1), endT);
  const labels = d3.timeDay.range(d3.timeDay.floor(cloudStart), d3.timeDay.floor(endT))
    .map(d => d3.timeMinute.offset(d, 17 * 60 + 30));

  drawGrid(top, x6, y, yTicks, minor, days);

  const g = svg.append("g");
  const bw = 8;
  g.selectAll("rect.box").data(cloudTimes).join("rect")
    .attr("x", d => x6(d) - bw / 2).attr("width", bw)
    .attr("y", (d, i) => y(cloudP75[i]))
    .attr("height", (d, i) => Math.max(1, y(cloudP25[i]) - y(cloudP75[i])))
    .attr("fill", "#ffffb4").attr("stroke", "#c6c6c6").attr("stroke-width", 1.2);
  g.selectAll("line.med").data(cloudTimes).join("line")
    .attr("x1", d => x6(d) - bw / 2).attr("x2", d => x6(d) + bw / 2)
    .attr("y1", (d, i) => y(cloudMedian[i])).attr("y2", (d, i) => y(cloudMedian[i]))
    .attr("stroke", "#2e2e1a").attr("stroke-width", 1.3);

  const line = d3.line().x((d, i) => x6(cloudTimes[i])).y(d => y(d));
  g.append("path").datum(cloudControl).attr("d", line).attr("fill", "none")
    .attr("stroke", BLUE).attr("stroke-width", 2.6).attr("stroke-linejoin", "round");

  drawAxes(top, x6, y, yTicks, minor, labels);
  drawHeader("Bedekkingsgraad", top);

  const lg = svg.append("g").attr("font-size", 11).attr("fill", "#000");
  const sy = top - 11.4, ty = top - 3.4;
  lg.append("rect").attr("x", 28.8).attr("y", sy).attr("width", 6.5).attr("height", 7)
    .attr("fill", BLUE).attr("stroke", "#222").attr("stroke-width", 0.6);
  lg.append("text").attr("x", 39.3).attr("y", ty).text("control");
  lg.append("rect").attr("x", 97.5).attr("y", sy).attr("width", 6.5).attr("height", 7)
    .attr("fill", "#ffffb4").attr("stroke", "#222").attr("stroke-width", 0.6);
  lg.append("text").attr("x", 106).attr("y", ty).text("50%");
  lg.append("rect").attr("x", 156).attr("y", sy).attr("width", 6.5).attr("height", 7)
    .attr("fill", "#000");
  lg.append("text").attr("x", 166).attr("y", ty).text("median");
}

drawCloud(FIRST_TOP + PANEL_STEP * 5);
</script>
</body>
</html>
